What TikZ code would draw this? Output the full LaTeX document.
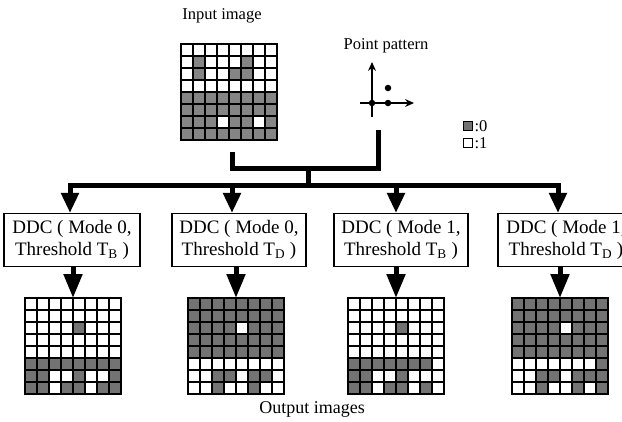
\documentclass[tikz,border=0pt]{standalone}
\usepackage{fontspec}
\setmainfont{Liberation Serif}
\usetikzlibrary{arrows.meta}
\definecolor{cellgray}{gray}{0.45}
\definecolor{ingray}{gray}{0.52}
\tikzset{
  gridframe/.style={draw=none, minimum size=96pt, inner sep=0pt, outer sep=0pt},
  gridln/.style={line width=1.1pt},
  bus/.style={line width=5pt, line cap=rect},
  bigarrow/.style={line width=5pt, -{Triangle[length=20pt,width=17pt]}},
  smallarrow/.style={line width=5pt, -{Triangle[length=24pt,width=18pt]}},
  thinarrow/.style={line width=1.1pt, -{Stealth[length=9pt,width=8pt,inset=3pt]}},
  ddcbox/.style={draw, line width=1.1pt, minimum height=53pt, inner sep=0pt, align=center, font=\fontsize{19}{22}\selectfont},
  lbltext/.style={font=\fontsize{16.5}{18}\selectfont, inner sep=0pt},
  dotnode/.style={circle, fill, inner sep=0pt, minimum size=6.5pt},
  sqnode/.style={draw, line width=0.8pt, minimum size=9pt, inner sep=0pt},
}
\newcommand\drawimg[5]{%
  \node[gridframe] (#1) at (#2+48,#3+48) {};
  \foreach \row [count=\j] in {#5} {
    \foreach \v [count=\i] in \row {
      \ifnum\v=0 \fill[#4] ({#2+12*(\i-1)},{#3+12*(\j-1)}) rectangle ++(12,12);\fi
    }
  }
  \foreach \k in {0,...,8} {
    \draw[gridln] ({#2+12*\k},#3) -- ++(0,96);
    \draw[gridln] (#2,{#3+12*\k}) -- ++(96,0);
  }
  \draw[gridln] (#2,#3) rectangle ++(96,96);
}
\begin{document}
\begin{tikzpicture}[x=1pt,y=-1pt]
\clip (0,0) rectangle (622,421);
\fill[white] (0,0) rectangle (622,421);

% labels
\node[lbltext] (inlbl) at (222,16) {Input image};
\node[lbltext] (ptlbl) at (386,46) {Point pattern};
\node[lbltext, font=\fontsize{18}{20}\selectfont] (outlbl) at (312,409) {Output images};

% input image
\drawimg{inimg}{181}{44}{ingray}{{1,1,1,1,1,1,1,1},{1,0,1,1,1,0,1,1},{1,0,1,1,0,0,1,1},{1,1,1,1,1,1,1,1},{0,0,0,0,0,0,0,0},{0,0,0,0,0,0,0,0},{0,0,0,1,0,0,1,0},{0,0,0,0,0,0,0,0}}

% point pattern
\coordinate (pv0) at (372,117);
\coordinate (pv1) at (372,62);
\coordinate (ph0) at (360,103);
\coordinate (ph1) at (414,103);
\draw[thinarrow] (pv0) -- (pv1);
\draw[thinarrow] (ph0) -- (ph1);
\node[dotnode] (d1) at (372,103) {};
\node[dotnode] (d2) at (388,103) {};
\node[dotnode] (d3) at (388,88) {};

% legend
\node[sqnode, fill=cellgray] (lg0) at (468,126) {};
\node[lbltext, anchor=west] (lg0t) at ([xshift=1.5pt]lg0.east) {:0};
\node[sqnode, fill=white] (lg1) at (468,143) {};
\node[lbltext, anchor=west] (lg1t) at ([xshift=1.5pt]lg1.east) {:1};

% combining bus
\coordinate (lt) at (232,152);
\coordinate (lb) at (232,168);
\coordinate (rb) at (378,168);
\coordinate (rt) at (378,130);
\draw[bus, line cap=butt] (lt) -- (lb) -- (rb) -- (rt);
\coordinate (mt) at (308,168);
\coordinate (mb) at (308,185);
\draw[line width=5pt] (mt) -- (mb);
\coordinate (t1) at (70,185);
\coordinate (t2) at (232,185);
\coordinate (t3) at (396,185);
\coordinate (t4) at (558,185);
\draw[bus] (t1) -- (t4);

% DDC boxes
\node[ddcbox, minimum width=136pt] (b1) at (72,240) {DDC ( Mode 0,\\Threshold T\textsubscript{B} )};
\node[ddcbox, minimum width=134pt] (b2) at (239,240) {DDC ( Mode 0,\\Threshold T\textsubscript{D} )};
\node[ddcbox, minimum width=134pt] (b3) at (401,240) {DDC ( Mode 1,\\Threshold T\textsubscript{B} )};
\node[ddcbox, minimum width=136pt] (b4) at (566,240) {DDC ( Mode 1,\\Threshold T\textsubscript{D} )};

\draw[bigarrow] (t1) -- (t1 |- b1.north);
\draw[bigarrow] (t2) -- (t2 |- b2.north);
\draw[bigarrow] (t3) -- (t3 |- b3.north);
\draw[bigarrow] (t4) -- (t4 |- b4.north);

% output images
\drawimg{o1}{25}{298}{cellgray}{{1,1,1,1,1,1,1,1},{1,1,1,1,1,1,1,1},{1,1,1,1,0,1,1,1},{1,1,1,1,1,1,1,1},{1,1,1,1,1,1,1,1},{0,0,0,0,0,0,0,0},{0,0,1,1,0,1,1,0},{0,0,1,0,0,1,0,0}}
\drawimg{o2}{188}{298}{cellgray}{{0,0,0,0,0,0,0,0},{0,0,0,0,0,0,0,0},{0,0,0,0,1,0,0,0},{0,0,0,0,0,0,0,0},{0,0,0,0,0,0,0,0},{1,1,1,1,1,1,1,1},{1,1,0,0,1,0,0,1},{1,1,0,1,1,0,1,1}}
\drawimg{o3}{348}{298}{cellgray}{{1,1,1,1,1,1,1,1},{1,1,1,1,1,1,1,1},{1,1,1,1,0,1,1,1},{1,1,1,1,1,1,1,1},{1,1,1,1,1,1,1,1},{0,0,0,0,0,0,0,1},{0,0,1,1,0,1,1,1},{0,0,1,0,0,1,0,1}}
\drawimg{o4}{512}{298}{cellgray}{{0,0,0,0,0,0,0,0},{0,0,0,0,0,0,0,0},{0,0,0,0,1,0,0,0},{0,0,0,0,0,0,0,0},{0,0,0,0,0,0,0,0},{1,1,1,1,1,1,1,0},{1,1,0,0,1,0,0,0},{1,1,0,1,1,0,1,0}}

\draw[smallarrow] (o1.north |- b1.south) -- (o1.north);
\draw[smallarrow] (o2.north |- b2.south) -- (o2.north);
\draw[smallarrow] (o3.north |- b3.south) -- (o3.north);
\draw[smallarrow] (o4.north |- b4.south) -- (o4.north);
\end{tikzpicture}
\end{document}
